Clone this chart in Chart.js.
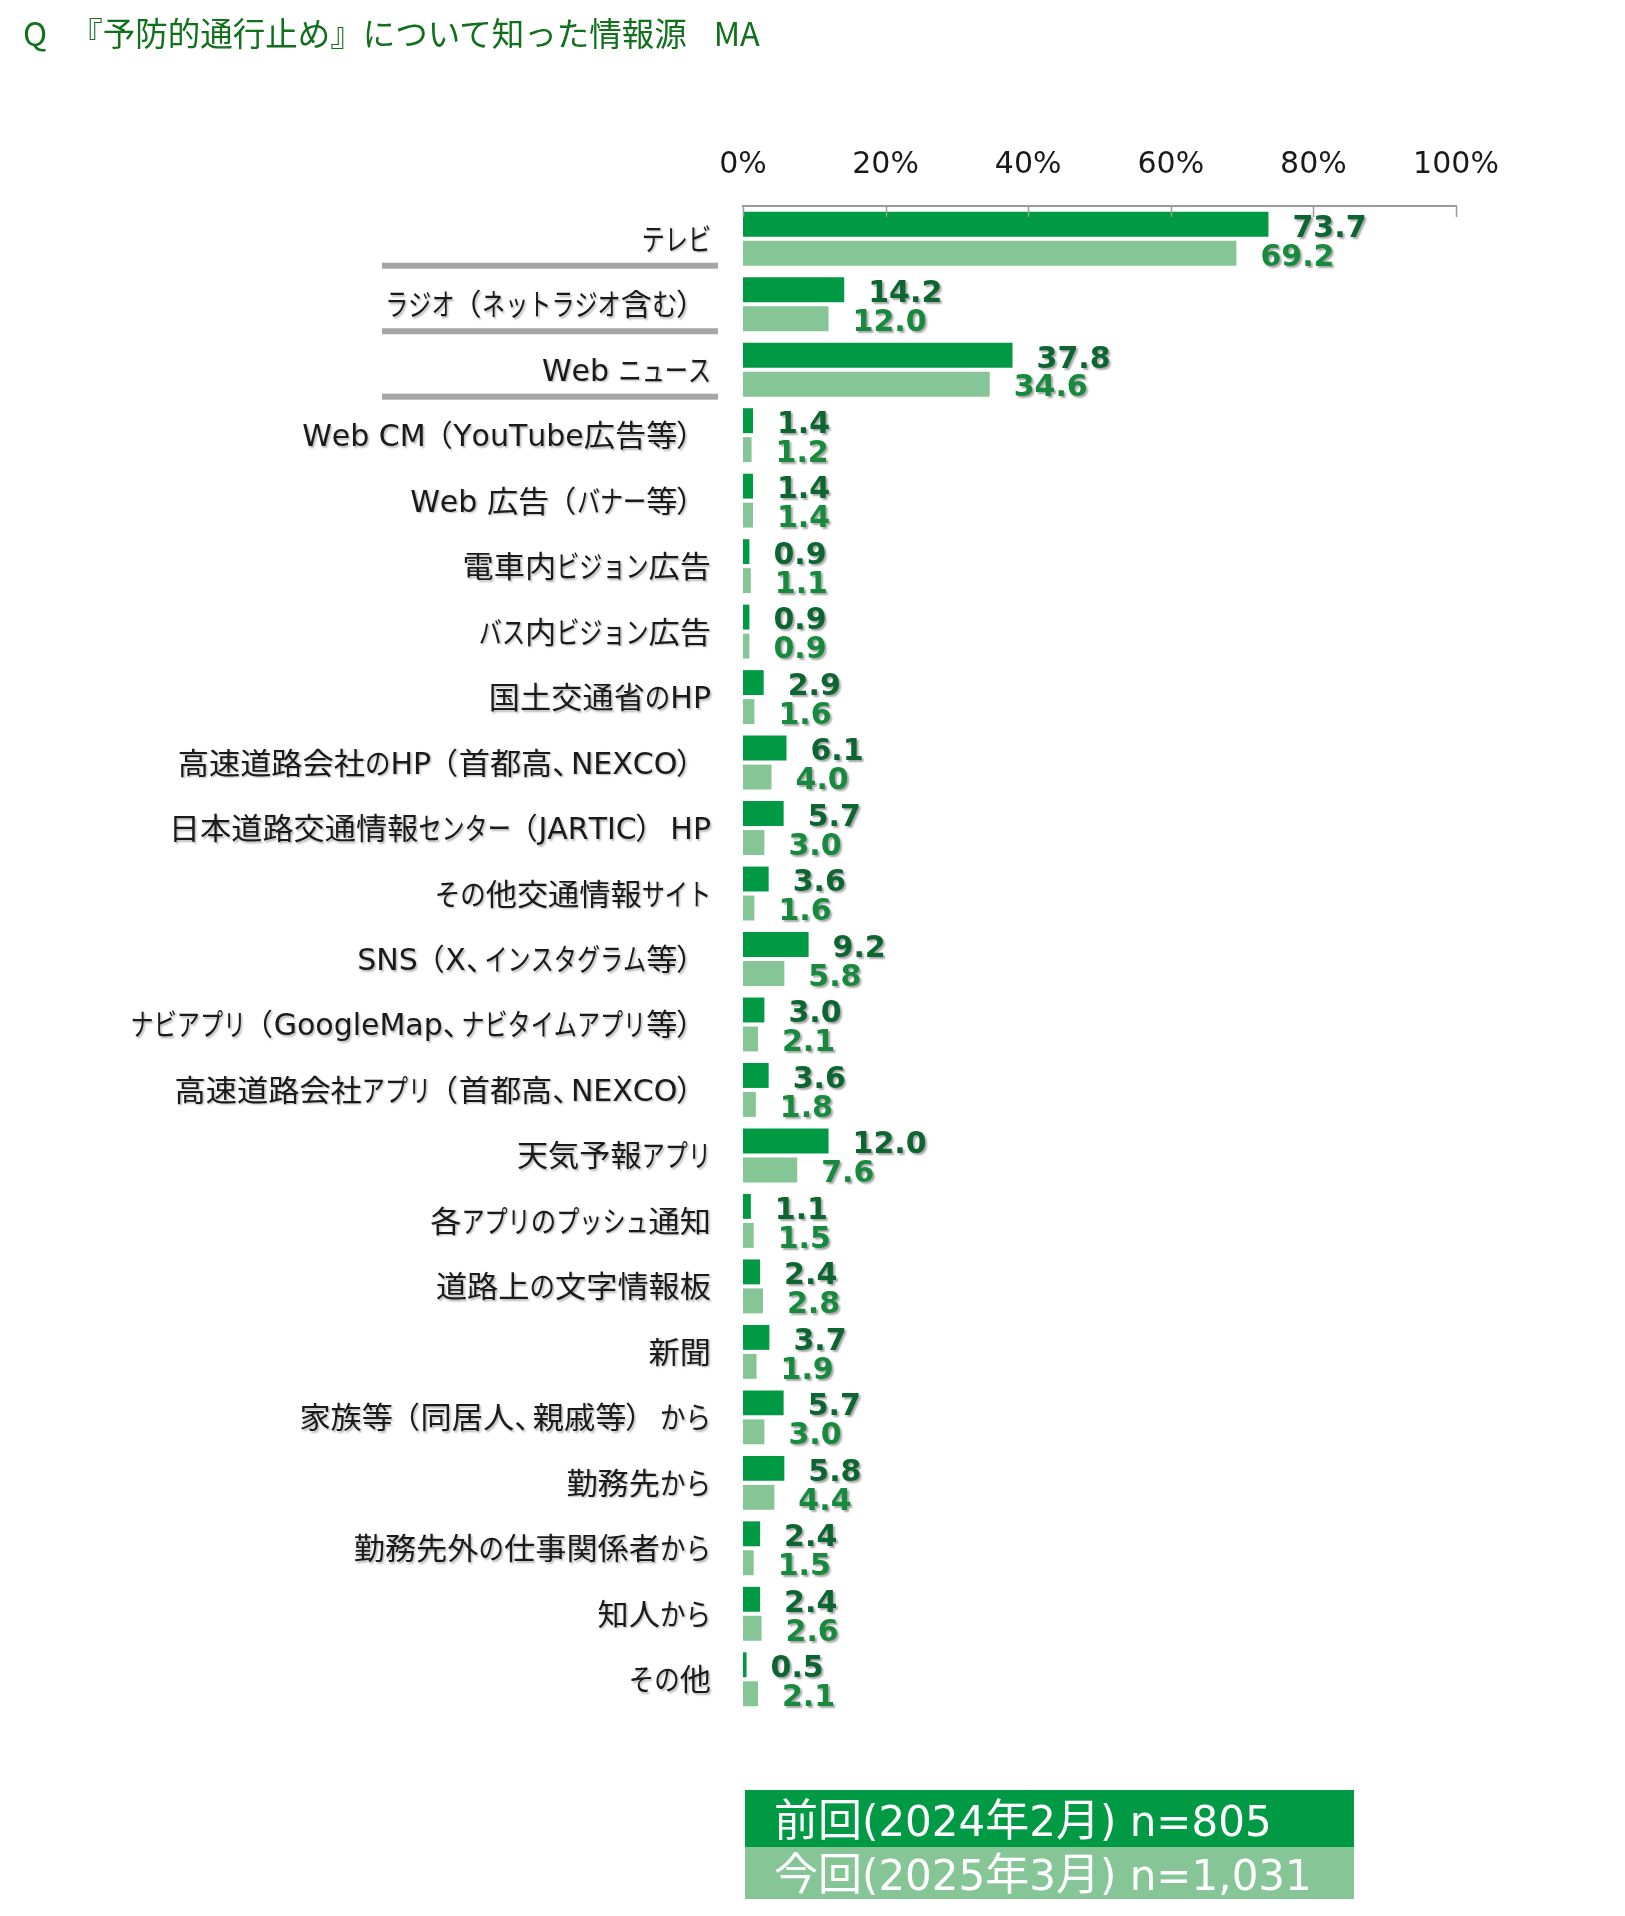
<!DOCTYPE html>
<html><head><meta charset="utf-8">
<script src="https://cdn.jsdelivr.net/npm/chart.js@4.4.1/dist/chart.umd.min.js"></script>
<style>
html,body{margin:0;padding:0;background:#fff;}
body{width:1625px;height:1916px;position:relative;overflow:hidden;}
#wrap{position:absolute;left:0;top:0;width:1625px;height:1916px;}
#title{position:absolute;left:23px;top:10px;font:32.5px "Noto Sans CJK JP";color:#11701c;white-space:pre;line-height:44px;text-spacing-trim:space-all;}
#title .body{margin-left:23px;}
#title .ma{margin-left:27px;}
.leg{position:absolute;left:745px;width:609px;color:#fff;font:42px "DejaVu Sans","Noto Sans CJK JP";box-sizing:border-box;padding-left:29px;padding-bottom:4px;display:flex;align-items:center;white-space:pre;text-spacing-trim:space-all;}
.leg .cjk{font-family:"Noto Sans CJK JP";font-size:44px;}
</style></head><body>
<div id="wrap"><canvas id="c" width="1625" height="1916"></canvas></div>
<div id="title"></div>
<div id="legend"></div>
<script>
const titleParts = ["Q", "『予防的通行止め』について知った情報源", "MA"];
const categories = [
  "テレビ",
  "ラジオ（ネットラジオ含む）",
  "Web ニュース",
  "Web CM（YouTube広告等）",
  "Web 広告（バナー等）",
  "電車内ビジョン広告",
  "バス内ビジョン広告",
  "国土交通省のHP",
  "高速道路会社のHP（首都高、NEXCO）",
  "日本道路交通情報センター（JARTIC）HP",
  "その他交通情報サイト",
  "SNS（X、インスタグラム等）",
  "ナビアプリ（GoogleMap、ナビタイムアプリ等）",
  "高速道路会社アプリ（首都高、NEXCO）",
  "天気予報アプリ",
  "各アプリのプッシュ通知",
  "道路上の文字情報板",
  "新聞",
  "家族等（同居人、親戚等）から",
  "勤務先から",
  "勤務先外の仕事関係者から",
  "知人から",
  "その他"
];
const prevValues = [73.7,14.2,37.8,1.4,1.4,0.9,0.9,2.9,6.1,5.7,3.6,9.2,3.0,3.6,12.0,1.1,2.4,3.7,5.7,5.8,2.4,2.4,0.5];
const currValues = [69.2,12.0,34.6,1.2,1.4,1.1,0.9,1.6,4.0,3.0,1.6,5.8,2.1,1.8,7.6,1.5,2.8,1.9,3.0,4.4,1.5,2.6,2.1];
const seriesLabels = ["前回(2024年2月) n=805", "今回(2025年3月) n=1,031"];
const tickValues = [0,20,40,60,80,100];
const separatorIndices = [0,1,2];

const colors = ["#009944", "#86c696"];
const valueColors = ["#0d6631", "#178a3d"];

// title
const titleEl = document.getElementById('title');
["q","body","ma"].forEach((cls,i)=>{
  const s = document.createElement('span');
  s.className = cls; s.textContent = titleParts[i];
  titleEl.appendChild(s);
});
// legend (runs of latin / CJK text)
const legendEl = document.getElementById('legend');
const legTops = [1790, 1847], legHeights = [57, 52];
seriesLabels.forEach((t,i)=>{
  const d = document.createElement('div');
  d.className = 'leg';
  d.style.top = legTops[i]+'px';
  d.style.height = legHeights[i]+'px';
  d.style.background = colors[i];
  const inner = document.createElement('span');
  let run = '', runCjk = null;
  const flush = ()=>{
    if (!run) return;
    const s = document.createElement('span');
    if (runCjk) s.className = 'cjk';
    s.textContent = run; inner.appendChild(s); run = '';
  };
  for (const ch of t){
    const isCjk = ch.codePointAt(0) >= 0x80;
    if (runCjk !== null && isCjk !== runCjk) flush();
    runCjk = isCjk; run += ch;
  }
  flush();
  d.appendChild(inner);
  legendEl.appendChild(d);
});

// label text renderer emulating a UI font with narrow kana
const LS = 30;
const fLatin = LS + 'px "DejaVu Sans"';
const fCjk = LS + 'px "Noto Sans CJK JP"';
function charSpec(ch){
  const c = ch.codePointAt(0);
  if (c < 0x80) return {font:fLatin, sx:1};
  if (c >= 0x30A0 && c <= 0x30FF) return {font:fCjk, sx:0.77};
  if (c >= 0x3040 && c <= 0x309F) return {font:fCjk, sx:0.85};
  if (ch === '、') return {font:fCjk, sx:1, adv:0.62};
  if (ch === '（') return {font:fCjk, sx:1, dx:-0.1, adv:0.92};
  if (ch === '）') return {font:fCjk, sx:1, dx:-0.05, adv:1.12};
  return {font:fCjk, sx:1.04};
}
function drawLabel(c, text, xRight, yBase){
  const items = [];
  let total = 0;
  for (const ch of text){
    const sp = charSpec(ch);
    c.font = sp.font;
    const w = c.measureText(ch).width;
    const adv = sp.adv != null ? sp.adv*LS : w*sp.sx;
    items.push({ch, sp, adv});
    total += adv;
  }
  let x = xRight - total;
  items.forEach(it=>{
    c.font = it.sp.font;
    c.save();
    c.translate(x + (it.sp.dx || 0)*LS, yBase);
    c.scale(it.sp.sx, 1);
    c.fillText(it.ch, 0, 0);
    c.restore();
    x += it.adv;
  });
}

const decoPlugin = {
  id:'deco',
  afterLayout(chart){
    const y = chart.scales.y;
    if (!y._customLabels){
      y.drawLabels = function(){
        const c = chart.ctx;
        c.save();
        c.fillStyle = '#1a1a1a';
        c.textAlign = 'left'; c.textBaseline = 'alphabetic';
        c.shadowColor = 'rgba(0,0,0,0.28)';
        c.shadowOffsetX = 1.5; c.shadowOffsetY = 1.5; c.shadowBlur = 2;
        const xr = this.right - 32;
        this.ticks.forEach((t,i)=>{
          drawLabel(c, this.getLabelForValue(t.value), xr, this.getPixelForTick(i) + 11);
        });
        c.restore();
      };
      y._customLabels = true;
    }
  },
  afterDraw(chart){
    const c = chart.ctx, x = chart.scales.x, y = chart.scales.y, ca = chart.chartArea;
    c.save();
    c.strokeStyle = '#9a9a9a'; c.lineWidth = 1.5;
    tickValues.forEach(v=>{
      const px = Math.round(x.getPixelForValue(v))+0.5;
      c.beginPath(); c.moveTo(px, ca.top); c.lineTo(px, ca.top+11); c.stroke();
    });
    c.fillStyle = '#a6a6a6';
    separatorIndices.forEach(i=>{
      const py = y.getPixelForValue(i) + 27;
      c.fillRect(ca.left-361, py-3, 336, 6);
    });
    c.restore();
  },
  afterDatasetsDraw(chart){
    const c = chart.ctx;
    c.save();
    c.font = 'bold 30px "DejaVu Sans"';
    c.textAlign = 'left'; c.textBaseline = 'middle';
    c.shadowColor = 'rgba(0,0,0,0.35)';
    c.shadowOffsetX = 2; c.shadowOffsetY = 2; c.shadowBlur = 2;
    chart.data.datasets.forEach((ds, di)=>{
      const meta = chart.getDatasetMeta(di);
      c.fillStyle = valueColors[di];
      meta.data.forEach((bar, i)=>{
        c.fillText(ds.data[i].toFixed(1), bar.x + 24, bar.y + 4.5);
      });
    });
    c.restore();
  }
};

new Chart(document.getElementById('c'), {
  type:'bar',
  data:{
    labels: categories,
    datasets:[
      {label:seriesLabels[0], data:prevValues, backgroundColor:colors[0]},
      {label:seriesLabels[1], data:currValues, backgroundColor:colors[1]}
    ]
  },
  options:{
    indexAxis:'y',
    responsive:false,
    animation:false,
    devicePixelRatio:1,
    layout:{padding:{left:0, top:0, right:169, bottom:204}},
    datasets:{bar:{categoryPercentage:0.885, barPercentage:0.86}},
    plugins:{legend:{display:false}, tooltip:{enabled:false}},
    scales:{
      x:{
        position:'top', min:0, max:100,
        afterFit(s){ s.height = 206; },
        afterBuildTicks(s){ s.ticks = tickValues.map(v=>({value:v})); },
        ticks:{padding:23, color:'#1a1a1a', font:{family:'"DejaVu Sans"', size:30}, maxRotation:0, autoSkip:false, callback:v=>v+'%'},
        grid:{display:false, drawTicks:false},
        border:{display:true, color:'#9a9a9a', width:2}
      },
      y:{
        afterFit(s){ s.width = 743; },
        ticks:{padding:32, color:'#1a1a1a', font:{family:'"DejaVu Sans", "Noto Sans CJK JP"', size:30}, autoSkip:false},
        grid:{display:false, drawTicks:false},
        border:{display:false}
      }
    }
  },
  plugins:[decoPlugin]
});
</script>
</body></html>
